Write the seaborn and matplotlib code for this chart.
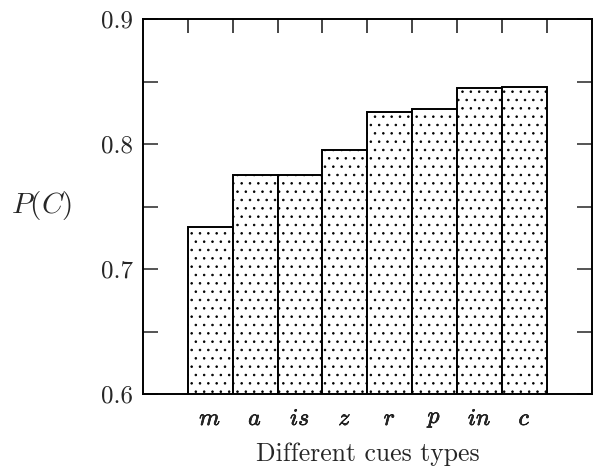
import numpy as np
import matplotlib
matplotlib.use("Agg")
import matplotlib.pyplot as plt
import matplotlib.patheffects as pe
from matplotlib.ticker import FixedLocator, MultipleLocator, NullFormatter, FixedFormatter
import seaborn as sns

# values
cues = ["m", "a", "is", "z", "r", "p", "in", "c"]
p_correct = [0.734, 0.775, 0.775, 0.795, 0.826, 0.828, 0.845, 0.846]
cue_labels = [f"${c}$" for c in cues]
y_ticks = [0.6, 0.7, 0.8, 0.9]


def plot_cues(output_filename):
    sns.set_style("ticks")
    plt.rcParams["font.family"] = ["cmr10", "DejaVu Serif"]
    plt.rcParams["mathtext.fontset"] = "cm"
    plt.rcParams["axes.unicode_minus"] = False
    plt.rcParams["hatch.linewidth"] = 0.6
    plt.rcParams["axes.formatter.use_mathtext"] = True

    fig = plt.figure(figsize=(5.95, 4.68), dpi=100)
    ax = fig.add_axes([0.240, 0.158, 0.755, 0.801])

    sns.barplot(x=cues, y=p_correct, color="white", edgecolor="black",
                linewidth=1.4, width=1.0, hatch="..", saturation=1, ax=ax)
    for bar in ax.patches:
        bar.set_facecolor("white")

    ax.set_xlim(-1.5, 8.5)
    ax.set_ylim(0.6, 0.9)

    # ticks at bar edges (top), labels at bar centers
    n = len(cues)
    ax.xaxis.set_major_locator(FixedLocator(np.arange(n + 1) - 0.5))
    ax.xaxis.set_major_formatter(NullFormatter())
    ax.xaxis.set_minor_locator(FixedLocator(np.arange(n)))
    ax.xaxis.set_minor_formatter(FixedFormatter(cue_labels))
    ax.tick_params(axis="x", which="major", direction="in", length=10, width=1.2,
                   top=True, bottom=True)
    ax.tick_params(axis="x", which="minor", length=0, pad=10, labelsize=17)
    for lbl in ax.get_xticklabels(minor=True):
        lbl.set_path_effects([pe.withStroke(linewidth=0.45, foreground="black")])

    ax.yaxis.set_major_locator(FixedLocator(y_ticks))
    ax.yaxis.set_major_formatter(FixedFormatter([f"{v:.1f}" for v in y_ticks]))
    ax.yaxis.set_minor_locator(MultipleLocator(0.05))
    ax.tick_params(axis="y", which="both", direction="in", length=11, width=1.1,
                   left=True, right=True, labelsize=18, pad=7)

    for s in ax.spines.values():
        s.set_linewidth(1.4)
        s.set_color("black")

    ax.set_xlabel("Different cues types", fontsize=18.5, labelpad=9)
    ax.set_ylabel("$P(C)$", fontsize=21, rotation=0, va="center", ha="center")
    ax.yaxis.set_label_coords(-0.225, 0.504)

    fig.savefig(output_filename, dpi=100)


if __name__ == "__main__":
    plot_cues("out.png")
